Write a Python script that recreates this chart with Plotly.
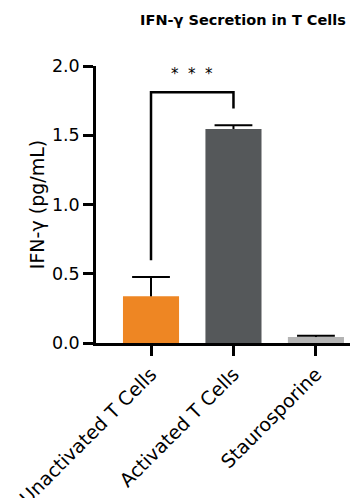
import plotly.graph_objects as go

categories = ["Unactivated T Cells", "Activated T Cells", "Staurosporine"]
means = [0.337, 1.545, 0.043]
errors = [0.140, 0.028, 0.010]
colors = ["#EE8623", "#55585A", "#B4B4B4"]
y_ticks = [0.0, 0.5, 1.0, 1.5, 2.0]
y_ticklabels = ["0.0", "0.5", "1.0", "1.5", "2.0"]
sig_pair = (0, 1)
sig_label = "*  *  *"
sig_height = 1.81
sig_gap = 0.12

FONT = "DejaVu Sans"
OFF = 8  # default page body margin
xs = list(range(len(categories)))
tops = [m + e for m, e in zip(means, errors)]

fig = go.Figure()
fig.add_trace(go.Bar(
    x=xs, y=means,
    marker=dict(color=colors, line=dict(width=0)),
    width=0.68,
    error_y=dict(type="data", symmetric=False, array=errors,
                 arrayminus=[0] * len(errors),
                 color="black", thickness=2, width=0),
))
# error-bar caps (upper only)
fig.add_trace(go.Scatter(
    x=xs, y=tops, mode="markers", hoverinfo="skip",
    marker=dict(symbol="line-ew", size=27, color="black",
                line=dict(color="black", width=2)),
))

a, b = sig_pair
ya = tops[a] + sig_gap
yb = tops[b] + sig_gap
fig.add_shape(type="path",
              path=f"M {a} {ya} L {a} {sig_height} L {b} {sig_height} L {b} {yb}",
              line=dict(color="black", width=2.5))
fig.add_annotation(x=(a + b) / 2, y=sig_height, text=sig_label, showarrow=False,
                   yanchor="bottom", yshift=7,
                   font=dict(family=FONT, size=15, color="black"))

fig.update_layout(
    width=358 - OFF, height=498 - OFF,
    margin=dict(l=96 - OFF, r=0, t=66 - OFF, b=155),
    plot_bgcolor="white", paper_bgcolor="white",
    showlegend=False,
    font=dict(family=FONT, color="black"),
    title=dict(text="<b>IFN-γ Secretion in T Cells</b>", x=(243 - OFF) / 350, xanchor="center",
               y=1 - (20 - OFF) / 490, yanchor="middle", automargin=False,
               font=dict(family=FONT, size=14.5, color="black")),
    xaxis=dict(range=[-0.667, 2.51], tickvals=xs, ticktext=categories,
               tickangle=-45, ticks="outside", ticklen=10, tickwidth=2.5,
               tickcolor="black", showline=True, linecolor="black", linewidth=2.5,
               showgrid=False, zeroline=False, automargin=False,
               tickfont=dict(family=FONT, size=19, color="black")),
    yaxis=dict(range=[0, 2.0], tickvals=y_ticks, ticktext=y_ticklabels,
               ticks="outside", ticklen=10, tickwidth=2.5, tickcolor="black",
               showline=True, linecolor="black", linewidth=2.5,
               showgrid=False, zeroline=False, automargin=False,
               tickfont=dict(family=FONT, size=17.5, color="black"),
               title=dict(text="IFN-γ (pg/mL)", standoff=3,
                          font=dict(family=FONT, size=19, color="black"))),
)

fig.write_html("out.html")
